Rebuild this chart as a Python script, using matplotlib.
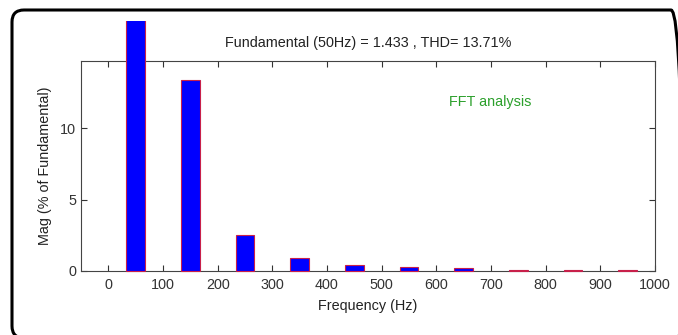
import numpy as np
import matplotlib
matplotlib.use('Agg')
import matplotlib.pyplot as plt
from matplotlib.patches import FancyBboxPatch
from matplotlib.transforms import Bbox

# harmonic spectrum
freqs = [50, 150, 250, 350, 450, 550, 650, 750, 850, 950]
mags = [100, 13.4, 2.5, 0.93, 0.42, 0.26, 0.19, 0.06, 0.06, 0.06]
xticks = [0, 100, 200, 300, 400, 500, 600, 700, 800, 900, 1000]
yticks = [0, 5, 10]

plt.rcParams['font.family'] = ['Liberation Sans', 'DejaVu Sans']
fs = 10.4

fig = plt.figure(figsize=(6.78, 3.35), dpi=100)
ax = fig.add_axes([81/678, 64/335, 574/678, 210/335])

bars = ax.bar(freqs, mags, width=34, color='#0000ff', edgecolor='#c8204a', linewidth=0.8, zorder=3)
# bars spill over the top of the axes, cut off near the frame
clip = Bbox.from_extents(0, 0, 678, 335 - 21)
for b in bars:
    b.set_clip_on(True)
    b.set_clip_box(clip)

ax.set_xlim(-50, 1000)
ax.set_ylim(0, 14.7)
ax.set_xticks(xticks)
ax.set_yticks(yticks)
ax.tick_params(direction='in', length=4, top=True, right=True, labelsize=fs, colors='#333333', width=0.8)
ax.tick_params(axis='x', pad=5)
for s in ax.spines.values():
    s.set_color('#444444')
    s.set_linewidth(0.8)

ax.set_xlabel('Frequency (Hz)', fontsize=fs, color='#222222', labelpad=5)
ax.set_ylabel('Mag (% of Fundamental)', fontsize=fs, color='#222222', labelpad=6)
ax.set_title('Fundamental (50Hz) = 1.433 , THD= 13.71%', fontsize=fs, color='#222222', pad=10)
ax.text(698, 11.8, 'FFT analysis', color='#2ca02c', fontsize=fs, ha='center', va='center')

# rounded outer frame of the screenshot (inches, runs off the right edge)
frame = FancyBboxPatch((0.12, -0.03), 6.71, 3.28,
                       boxstyle='round,pad=0,rounding_size=0.12',
                       transform=fig.dpi_scale_trans, fill=False,
                       edgecolor='black', linewidth=2.2)
fig.patches.append(frame)

fig.savefig('out.png', dpi=100)
